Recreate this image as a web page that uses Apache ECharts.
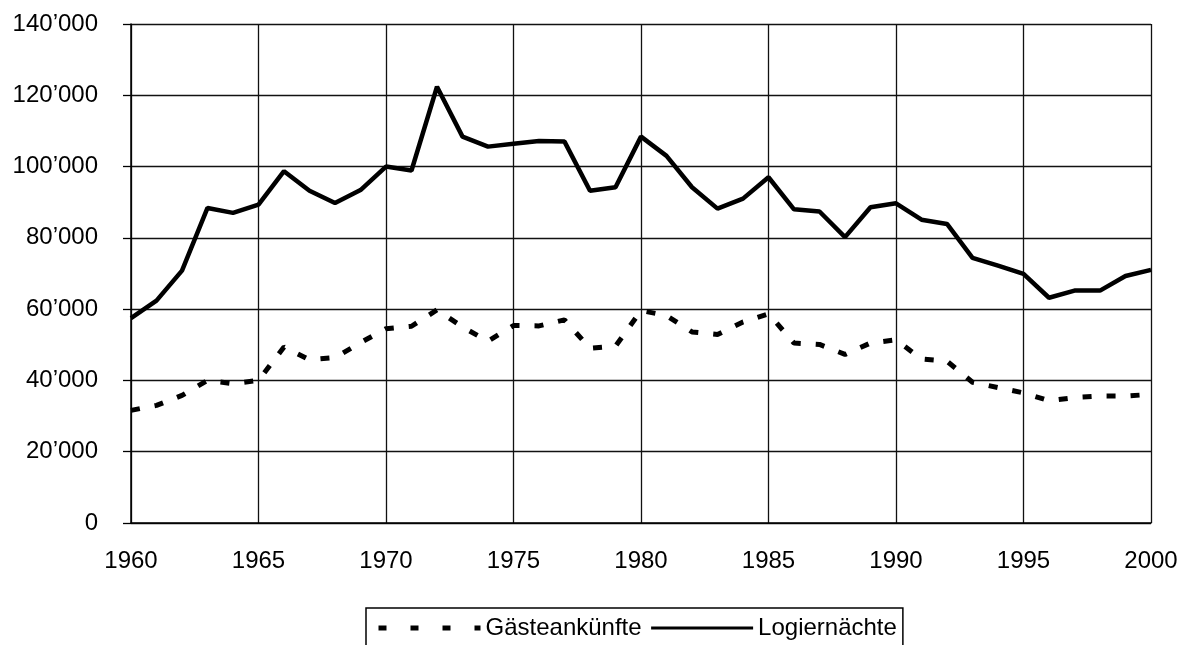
<!DOCTYPE html>
<html>
<head>
<meta charset="utf-8">
<script src="https://cdn.jsdelivr.net/npm/echarts@6/dist/echarts.min.js"></script>
<style>
html,body{margin:0;padding:0;background:#fff;}
#c{width:1181px;height:645px;}
</style>
</head>
<body>
<div id="c"></div>
<script>
const years = [1960,1961,1962,1963,1964,1965,1966,1967,1968,1969,1970,1971,1972,1973,1974,1975,1976,1977,1978,1979,1980,1981,1982,1983,1984,1985,1986,1987,1988,1989,1990,1991,1992,1993,1994,1995,1996,1997,1998,1999,2000];
const gaesteankuenfte = [31600,33000,35800,40000,39100,40000,49400,45800,46400,50600,54500,55200,59800,55000,51000,55400,55300,57000,49000,49600,59600,58200,53600,52900,56400,58700,50500,50100,47300,50500,51400,46000,45400,39500,38000,36500,34300,35200,35600,35600,36100];
const logiernaechte = [57500,62400,70800,88400,87000,89300,98700,93200,89800,93400,100000,98900,122400,108400,105600,106400,107200,107000,93200,94200,108400,103000,94200,88200,91000,97000,88000,87400,80200,88600,89700,85100,83900,74400,72200,69900,63200,65200,65200,69300,71000];
const seriesNames = ['Gästeankünfte','Logiernächte'];

const pairs = (vals) => years.map((y,i)=>[y, vals[i]]);
const font = 'Liberation Sans, Arial, sans-serif';
const chart = echarts.init(document.getElementById('c'), null, {renderer:'canvas'});
chart.setOption({
  animation:false,
  backgroundColor:'#fff',
  grid:{left:131,right:30,top:24,bottom:122,containLabel:false},
  xAxis:{
    type:'value',min:1960,max:2000,interval:5,
    axisLine:{show:true,lineStyle:{color:'#000',width:1.5}},
    axisTick:{show:false},
    splitLine:{show:true,lineStyle:{color:'#111',width:1.3}},
    axisLabel:{color:'#000',fontFamily:font,fontSize:24,margin:26,formatter:(v)=>String(v)}
  },
  yAxis:{
    type:'value',min:0,max:140000,interval:20000,
    axisLine:{show:true,lineStyle:{color:'#000',width:1.5}},
    axisTick:{show:true,length:8,lineStyle:{color:'#000',width:1.3}},
    splitLine:{show:true,lineStyle:{color:'#111',width:1.3}},
    axisLabel:{color:'#000',fontFamily:font,fontSize:24,margin:33,
      formatter:(v)=>{ if(v===0) return '0'; const k=Math.floor(v/1000); return k+'\u2019000'; }}
  },
  legend:{
    data:[
      {name:seriesNames[0],lineStyle:{color:'#000',width:5,type:[8,24]},itemStyle:{opacity:0}},
      {name:seriesNames[1],lineStyle:{color:'#000',width:3,type:'solid'},itemStyle:{opacity:0}}
    ],
    left:366,top:608,
    itemWidth:102,itemHeight:14,itemGap:8,
    borderColor:'#000',borderWidth:1.5,padding:[8,6,12,10],
    textStyle:{color:'#000',fontFamily:font,fontSize:24}
  },
  series:[
    {name:seriesNames[0],type:'line',data:pairs(gaesteankuenfte),showSymbol:false,symbol:'none',
     lineStyle:{color:'#000',width:5,type:[9,15]},itemStyle:{color:'#000'}},
    {name:seriesNames[1],type:'line',data:pairs(logiernaechte),showSymbol:false,symbol:'none',
     lineStyle:{color:'#000',width:4.5,type:'solid'},itemStyle:{color:'#000'}}
  ]
});
</script>
</body>
</html>
